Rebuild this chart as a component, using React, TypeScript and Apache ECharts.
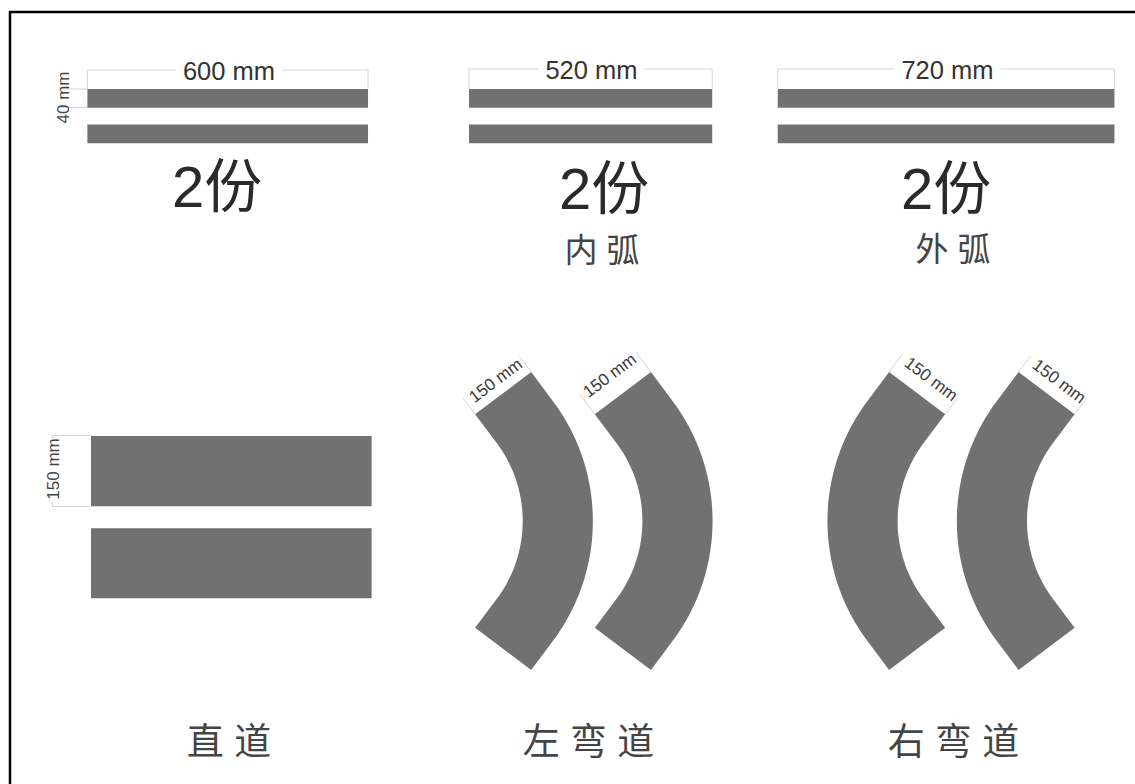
import React, { useEffect, useRef } from "react";
import * as echarts from "echarts";

const W = 1135;
const H = 784;
const PX_PER_MM = 0.4677;
const toMm = (px: number) => px / PX_PER_MM;

const GREY = "#717171";
const DIM = "#d4d4d4";
const INK = "#333333";
const LATIN = '"Liberation Sans", Arial, sans-serif';
const CJK = '"Liberation Sans", "Noto Sans CJK SC", sans-serif';

// Sizes of the parts, in millimetres, as printed on the sheet
const stripLengths = [600, 520, 720];
const stripWidth = 40;
const stripLabels = ["600 mm", "520 mm", "720 mm"];
const stripCopies = ["2份", "2份", "2份"];
const arcNotes = ["内 弧", "外 弧"];
const roadLength = 600;
const roadWidth = 150;
const bendInnerRadius = 278;
const bendStraight = 77;
const bendHalfAngle = Math.atan(0.75);
const bendLabel = "150 mm";
const partNames = ["直 道", "左 弯 道", "右 弯 道"];

// Layout on the page, in pixels
const stripLeft = [87.4, 469, 777.7];
const stripTops = [89, 124.5];
const roadLeft = 91;
const roadTops = [436, 528.2];
const bends = [
  { apex: 522.7, cy: 521, dir: 1 },
  { apex: 642.4, cy: 521, dir: 1 },
  { apex: 897.6, cy: 521, dir: -1 },
  { apex: 1027, cy: 521, dir: -1 },
];
const bendDims = [
  { ext: 20, text: 14.5, shift: 1.5 },
  { ext: 25, text: 22, shift: 0 },
  { ext: 21, text: 19.5, shift: 2.8 },
  { ext: 20, text: 17, shift: 3 },
];

const stripRows = stripLengths.flatMap((len, i) =>
  stripTops.map((top) => [toMm(stripLeft[i]), toMm(top), len, stripWidth]),
);
const roadRows = roadTops.map((top) => [toMm(roadLeft), toMm(top), roadLength, roadWidth]);
const bendRows = bends.map((b) => [toMm(b.apex), toMm(b.cy), b.dir]);

const renderRect = (_: any, api: any) => {
  const x = api.value(0);
  const y = api.value(1);
  const a = api.coord([x, y]);
  const b = api.coord([x + api.value(2), y + api.value(3)]);
  return {
    type: "rect",
    shape: { x: a[0], y: a[1], width: b[0] - a[0], height: b[1] - a[1] },
    style: { fill: GREY },
  };
};

const renderBend = (_: any, api: any) => {
  const apex = api.value(0);
  const cy = api.value(1);
  const dir = api.value(2);
  const cx = apex - dir * bendInnerRadius;
  const steps = 48;
  const side = (radius: number) => {
    const out: number[][] = [];
    const s = Math.sin(bendHalfAngle);
    const c = Math.cos(bendHalfAngle);
    out.push([
      cx + dir * radius * c - dir * bendStraight * s,
      cy - radius * s - bendStraight * c,
    ]);
    for (let i = 0; i <= steps; i++) {
      const t = -bendHalfAngle + (2 * bendHalfAngle * i) / steps;
      out.push([cx + dir * radius * Math.cos(t), cy + radius * Math.sin(t)]);
    }
    out.push([
      cx + dir * radius * c - dir * bendStraight * s,
      cy + radius * s + bendStraight * c,
    ]);
    return out;
  };
  const pts = [...side(bendInnerRadius), ...side(bendInnerRadius + roadWidth).reverse()];
  return {
    type: "polygon",
    shape: { points: pts.map((p) => api.coord(p)) },
    style: { fill: GREY },
  };
};

const seg = (x1: number, y1: number, x2: number, y2: number) => ({
  type: "line",
  silent: true,
  shape: { x1, y1, x2, y2 },
  style: { stroke: DIM, lineWidth: 1 },
});

const label = (
  text: string,
  x: number,
  y: number,
  size: number,
  family: string,
  fill = INK,
  rotation = 0,
) => ({
  type: "text",
  silent: true,
  x,
  y,
  rotation,
  style: {
    text,
    x: 0,
    y: 0,
    fill,
    font: `${size}px ${family}`,
    textAlign: "center",
    textVerticalAlign: "middle",
    verticalAlign: "middle",
  },
});

const buildGraphics = () => {
  const els: any[] = [];
  // frame, open on the right and at the bottom
  els.push({
    type: "polyline",
    silent: true,
    shape: { points: [[10, H], [10, 12], [W, 12]] },
    style: { stroke: "#000000", lineWidth: 2.5, fill: "none" },
  });

  // strip dimensions
  const dimY = [70, 69, 69];
  const textX = [229, 591.5, 947.5];
  const textY = [71, 69.5, 69.5];
  stripLengths.forEach((len, i) => {
    const l = stripLeft[i];
    const r = l + len * PX_PER_MM;
    els.push(seg(l, dimY[i], textX[i] - 53, dimY[i]));
    els.push(seg(textX[i] + 53, dimY[i], r, dimY[i]));
    els.push(seg(l, dimY[i], l, stripTops[0]));
    els.push(seg(r, dimY[i], r, stripTops[0]));
    els.push(label(stripLabels[i], textX[i], textY[i], 25.5, LATIN));
  });
  els.push(label("2份", 217, 186, 58, CJK, "#2a2a2a"));
  els.push(label(stripCopies[1], 604, 188, 58, CJK, "#2a2a2a"));
  els.push(label(stripCopies[2], 946, 188, 58, CJK, "#2a2a2a"));
  els.push(label(arcNotes[0], 602, 250, 33, CJK, "#444444"));
  els.push(label(arcNotes[1], 953, 249, 33, CJK, "#444444"));

  // strip width note
  els.push(seg(58, 89, 87.4, 89));
  els.push(seg(58, 107.4, 87.4, 107.4));
  els.push(label("40 mm", 63, 97.5, 17, LATIN, "#444444", Math.PI / 2));

  // road width note
  els.push(seg(52, 435.5, 91, 435.5));
  els.push(seg(52, 506.5, 91, 506.5));
  els.push(seg(52.5, 435.5, 52.5, 438));
  els.push(seg(52.5, 502, 52.5, 506.5));
  els.push(label("150 mm", 53, 469, 17, LATIN, "#444444", Math.PI / 2));

  // bend width notes
  bends.forEach((b, i) => {
    const d = bendDims[i];
    const R = bendInnerRadius * PX_PER_MM;
    const w = roadWidth * PX_PER_MM;
    const L = bendStraight * PX_PER_MM;
    const cx = b.apex - b.dir * R;
    const corner = (rad: number) => [
      cx + b.dir * (rad * 0.8 - L * 0.6),
      b.cy - rad * 0.6 - L * 0.8,
    ];
    const inner = corner(R);
    const outer = corner(R + w);
    const nx = -b.dir * 0.6;
    const ny = -0.8;
    const tx = b.dir * 0.8;
    const ty = -0.6;
    const innerEnd = [inner[0] + nx * d.ext, inner[1] + ny * d.ext];
    const outerEnd = [outer[0] + nx * d.ext, outer[1] + ny * d.ext];
    els.push(seg(inner[0], inner[1], innerEnd[0], innerEnd[1]));
    els.push(seg(outer[0], outer[1], outerEnd[0], outerEnd[1]));
    const mx = (inner[0] + outer[0]) / 2 + nx * d.text + tx * d.shift * b.dir;
    const my = (inner[1] + outer[1]) / 2 + ny * d.text + ty * d.shift * b.dir;
    els.push(label(bendLabel, mx, my, 17, LATIN, "#3a3a3a", b.dir * Math.atan(0.75)));
  });

  // part names
  els.push(label(partNames[0], 229, 742, 37, CJK, "#444444"));
  els.push(label(partNames[1], 588.5, 742, 37, CJK, "#444444"));
  els.push(label(partNames[2], 953.5, 742, 37, CJK, "#444444"));
  return els;
};

export default function App() {
  const ref = useRef<HTMLDivElement>(null);
  useEffect(() => {
    document.body.style.margin = "0";
    const chart = echarts.init(ref.current!, undefined, { renderer: "svg" });
    chart.setOption({
      animation: false,
      backgroundColor: "#ffffff",
      grid: { left: 0, right: 0, top: 0, bottom: 0 },
      xAxis: { type: "value", min: 0, max: toMm(W), show: false },
      yAxis: { type: "value", min: 0, max: toMm(H), inverse: true, show: false },
      series: [
        { type: "custom", name: "strips", renderItem: renderRect, data: stripRows, clip: false, silent: true },
        { type: "custom", name: "straight", renderItem: renderRect, data: roadRows, clip: false, silent: true },
        { type: "custom", name: "bends", renderItem: renderBend, data: bendRows, clip: false, silent: true },
      ],
      graphic: { elements: buildGraphics() },
    });
    return () => chart.dispose();
  }, []);
  return <div ref={ref} style={{ width: W, height: H }} />;
}
